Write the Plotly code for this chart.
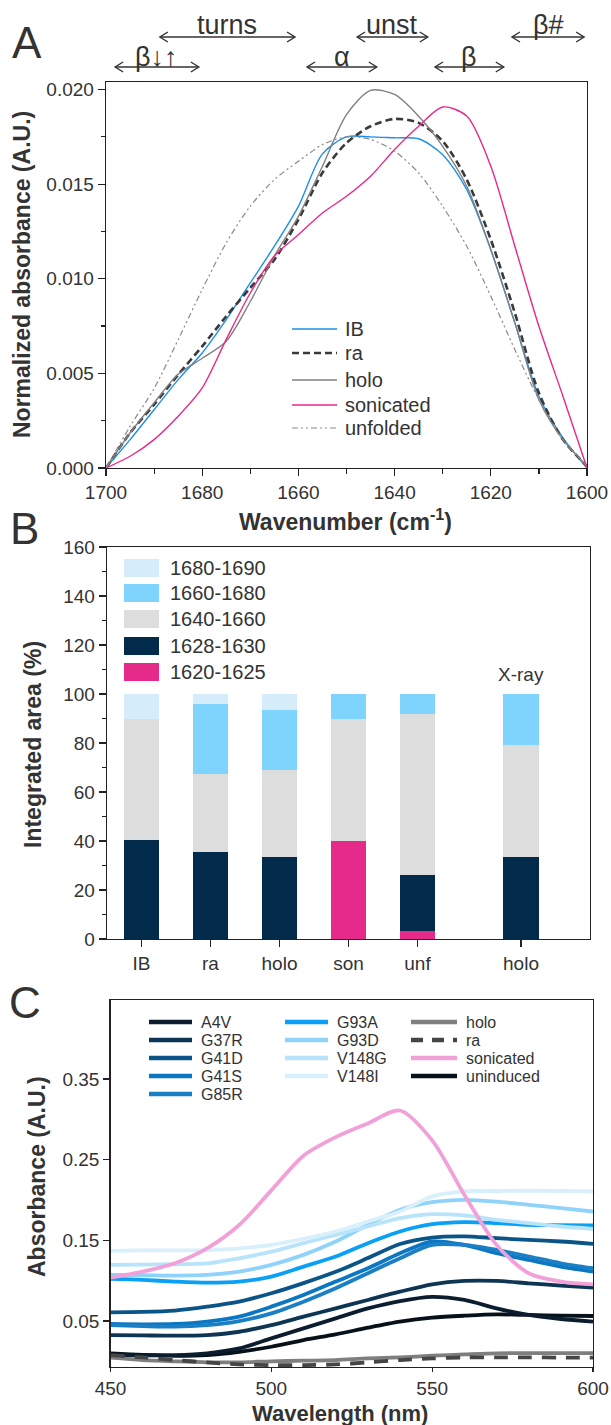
import plotly.graph_objects as go

W, H = 611, 1425
FONT = "Liberation Sans, Arial, sans-serif"
TXT = "#333333"

# ---------------- Panel A data ----------------
wavenumber = [1700, 1695, 1690, 1685, 1680, 1675, 1670, 1665, 1660, 1655, 1650,
              1645, 1640, 1635, 1630, 1625, 1620, 1615, 1610, 1605, 1600]
ib = [0, 0.0015, 0.00308, 0.00467, 0.00608, 0.00784, 0.00978, 0.01172, 0.01383, 0.0166, 0.0175,
      0.0175, 0.01745, 0.0174, 0.01656, 0.01471, 0.01154, 0.00767, 0.00379, 0.00159, 0]
ra = [0, 0.00185, 0.00335, 0.00493, 0.00643, 0.00802, 0.00952, 0.01101, 0.01313, 0.0156, 0.01718,
      0.01806, 0.01845, 0.01824, 0.01727, 0.01524, 0.01207, 0.00819, 0.00396, 0.0015, 0.0001]
holo = [0, 0.00185, 0.00345, 0.00495, 0.0058, 0.0067, 0.0088, 0.0112, 0.0133, 0.01595, 0.01868,
        0.01996, 0.01974, 0.01859, 0.017, 0.01489, 0.01154, 0.00767, 0.00361, 0.0015, 0.0001]
sonicated = [0, 0.00062, 0.0015, 0.00273, 0.00423, 0.0068, 0.00925, 0.0112, 0.01233, 0.01348, 0.01436,
             0.01542, 0.01683, 0.01806, 0.01908, 0.0186, 0.01595, 0.01172, 0.00749, 0.00379, 0]
unfolded = [0, 0.0022, 0.0042, 0.00678, 0.00943, 0.0119, 0.01384, 0.01524, 0.01621, 0.01709, 0.0175,
            0.01736, 0.01674, 0.01559, 0.01383, 0.01172, 0.00908, 0.00626, 0.00361, 0.00150, 0.0001]

region_labels = ["β↓↑", "turns", "α", "unst", "β", "β#"]
region_from = [1698.1, 1688.8, 1658.2, 1647.8, 1631.6, 1615.6]
region_to = [1680.7, 1660.7, 1643.7, 1633.1, 1617.3, 1600.6]
region_row = [2, 1, 2, 1, 2, 1]

# ---------------- Panel B data ----------------
bar_categories = ["IB", "ra", "holo", "son", "unf", "holo"]
bar_slots = [0, 1, 2, 3, 4, 5.5]
band_1620_1625 = [0, 0, 0, 40, 3.3, 0]
band_1628_1630 = [40.3, 35.6, 33.3, 0, 22.8, 33.6]
band_1640_1660 = [49.4, 31.6, 35.7, 50, 65.9, 45.4]
band_1660_1680 = [0, 28.8, 24.5, 10, 8, 21]
band_1680_1690 = [10.3, 4, 6.5, 0, 0, 0]

# ---------------- Panel C data ----------------
wavelength = [450, 460, 470, 480, 490, 500, 510, 520, 530, 540, 550, 560, 570, 580, 590, 600]
A4V = [0.0078, 0.0075, 0.0078, 0.010, 0.016, 0.0285, 0.0409, 0.0533, 0.0657, 0.0748, 0.080,
       0.0761, 0.0657, 0.0575, 0.0525, 0.0492]
G37R = [0.0326, 0.0322, 0.0318, 0.0326, 0.0367, 0.045, 0.0554, 0.0657, 0.0761, 0.0864, 0.0955,
        0.0997, 0.0997, 0.0968, 0.094, 0.0914]
G41D = [0.0608, 0.0613, 0.063, 0.0678, 0.074, 0.0844, 0.097, 0.1110, 0.128, 0.1455, 0.1535,
        0.155, 0.1527, 0.1506, 0.1486, 0.1457]
G41S = [0.0463, 0.0459, 0.0463, 0.0492, 0.0554, 0.0678, 0.0823, 0.0989, 0.1154, 0.134, 0.1486,
        0.1444, 0.134, 0.1258, 0.1175, 0.1113]
G85R = [0.045, 0.0438, 0.043, 0.045, 0.050, 0.0595, 0.074, 0.0906, 0.1092, 0.1278, 0.1444,
        0.1444, 0.1382, 0.130, 0.1216, 0.1154]
G93A = [0.1022, 0.101, 0.0989, 0.0976, 0.0989, 0.105, 0.1175, 0.1299, 0.1465, 0.161, 0.170,
        0.1726, 0.1713, 0.1692, 0.1688, 0.1684]
G93D = [0.1071, 0.107, 0.1063, 0.1071, 0.1113, 0.1196, 0.132, 0.1485, 0.1693, 0.188, 0.1974,
        0.2003, 0.198, 0.194, 0.19, 0.1858]
V148G = [0.1196, 0.1200, 0.1204, 0.1216, 0.1278, 0.1361, 0.1465, 0.1568, 0.1672, 0.1775, 0.1825,
         0.1809, 0.1755, 0.1713, 0.1672, 0.1643]
V148I = [0.137, 0.1375, 0.1375, 0.138, 0.140, 0.1444, 0.152, 0.161, 0.1734, 0.1858, 0.2045,
         0.2107, 0.2112, 0.2115, 0.2112, 0.2107]
holo_c = [0.0045, 0.0016, 0.0, -0.0012, -0.0012, 0.0, 0.0008, 0.0016, 0.0036, 0.0049, 0.007,
          0.0086, 0.0100, 0.0102, 0.0102, 0.0102]
ra_c = [0.0078, 0.0049, 0.0016, -0.0013, -0.0038, -0.0047, -0.0047, -0.0038, -0.0013, 0.0016, 0.0036,
        0.0049, 0.0049, 0.0049, 0.0047, 0.0045]
sonicated_c = [0.1038, 0.1113, 0.1216, 0.140, 0.169, 0.212, 0.255, 0.278, 0.295, 0.311, 0.274,
               0.2065, 0.1444, 0.1092, 0.0989, 0.0955]
uninduced = [0.0098, 0.0080, 0.0069, 0.0078, 0.0119, 0.0181, 0.0264, 0.0334, 0.0417, 0.0492, 0.0541,
             0.0566, 0.0583, 0.0575, 0.0566, 0.0562]


def px(x):
    return x / W


def py(y):
    return 1 - y / H


fig = go.Figure()

# ---- Panel A traces ----
a_series = [
    ("IB", ib, dict(color="#1e8fe6", width=1.4)),
    ("ra", ra, dict(color="#3a3a3a", width=2.6, dash="7px,4px")),
    ("holo", holo, dict(color="#808080", width=1.4)),
    ("sonicated", sonicated, dict(color="#e8288a", width=1.4)),
    ("unfolded", unfolded, dict(color="#8a8a8a", width=1.2, dash="6px,3px,2px,3px,2px,3px")),
]
for name, vals, ln in a_series:
    fig.add_trace(go.Scatter(x=wavenumber, y=vals, name=name, mode="lines",
                             line=dict(shape="spline", smoothing=0.8, **ln),
                             xaxis="x", yaxis="y", showlegend=False))

# ---- Panel B traces ----
b_series = [
    ("1620-1625", band_1620_1625, "#e62a8a"),
    ("1628-1630", band_1628_1630, "#022a4a"),
    ("1640-1660", band_1640_1660, "#dddddd"),
    ("1660-1680", band_1660_1680, "#7ed4fd"),
    ("1680-1690", band_1680_1690, "#d5edfb"),
]
for name, vals, col in b_series:
    fig.add_trace(go.Bar(x=bar_slots, y=vals, name=name, marker=dict(color=col, line=dict(width=0)),
                         width=0.52, xaxis="x2", yaxis="y2", showlegend=False))

# ---- Panel C traces ----
c_series = [
    ("uninduced", uninduced, "#07111a", None),
    ("A4V", A4V, "#0b1d2e", None),
    ("G37R", G37R, "#0e3553", None),
    ("G41D", G41D, "#0b5487", None),
    ("G41S", G41S, "#0b77c2", None),
    ("G85R", G85R, "#1a7fc4", None),
    ("G93A", G93A, "#0aa0f5", None),
    ("G93D", G93D, "#8fd2fa", None),
    ("V148G", V148G, "#b8e4fb", None),
    ("V148I", V148I, "#d8effc", None),
    ("sonicated", sonicated_c, "#f2a0d8", None),
    ("holo", holo_c, "#7f7f7f", None),
    ("ra", ra_c, "#454545", "14px,10px"),
]
for name, vals, col, dash in c_series:
    ln = dict(color=col, width=3.8, shape="spline", smoothing=0.8)
    if dash:
        ln["dash"] = dash
    fig.add_trace(go.Scatter(x=wavelength, y=vals, name=name, mode="lines", line=ln,
                             xaxis="x3", yaxis="y3", showlegend=False))

axis_common = dict(showline=True, linecolor="#222222", linewidth=1.3, mirror=True, ticks="outside",
                   tickcolor="#222222", tickwidth=1.2, showgrid=False, zeroline=False,
                   automargin=False, tickfont=dict(family=FONT, size=19, color=TXT))

fig.update_layout(
    width=W, height=H, autosize=False,
    margin=dict(l=0, r=0, t=0, b=0, pad=0, autoexpand=False),
    paper_bgcolor="white", plot_bgcolor="white",
    barmode="stack", showlegend=False, hovermode=False,
    font=dict(family=FONT, color=TXT),
    xaxis=dict(domain=[px(106), px(587)], range=[1700, 1600], anchor="y", ticklen=7,
               tickvals=[1700, 1680, 1660, 1640, 1620, 1600],
               minor=dict(dtick=10, ticks="outside", ticklen=5, tickcolor="#222222"), **axis_common),
    yaxis=dict(domain=[py(468), py(82)], range=[0, 0.0204], anchor="x", ticklen=7,
               tickvals=[0, 0.005, 0.01, 0.015, 0.02], tickformat=".3f",
               minor=dict(dtick=0.0025, ticks="outside", ticklen=4, tickcolor="#222222"), **axis_common),
    xaxis2=dict(domain=[px(107), px(590)], range=[-0.5, 6.5], anchor="y2", ticklen=7,
                tickvals=bar_slots, ticktext=bar_categories, **axis_common),
    yaxis2=dict(domain=[py(939), py(547)], range=[0, 160], anchor="x2", dtick=20, ticklen=7,
                minor=dict(dtick=10, ticks="outside", ticklen=4, tickcolor="#222222"), **axis_common),
    xaxis3=dict(domain=[px(110.5), px(593)], range=[450, 600], anchor="y3", dtick=50, ticklen=4,
                **axis_common),
    yaxis3=dict(domain=[py(1367), py(1000)], range=[-0.007, 0.448], anchor="x3", ticklen=6,
                tickvals=[0.05, 0.15, 0.25, 0.35], tickformat=".2f", **axis_common),
)

annotations = []
shapes = []


def txt(x, y, text, size=19, bold=False, angle=0, xanchor="center", yanchor="middle"):
    annotations.append(dict(x=x, y=y, xref="paper", yref="paper", text=("<b>%s</b>" % text) if bold else text,
                            showarrow=False, textangle=angle, xanchor=xanchor, yanchor=yanchor,
                            font=dict(family=FONT, size=size, color=TXT)))


# Panel letters
txt(px(27), py(43), "A", size=44)
txt(px(24), py(528), "B", size=44)
txt(px(25), py(1002), "C", size=44)

# Axis titles
txt(px(22), py(275), "Normalized absorbance (A.U.)", size=23, bold=True, angle=-90)
txt(px(345), py(520), "Wavenumber (cm<sup>-1</sup>)", size=23, bold=True)
txt(px(33), py(745), "Integrated area (%)", size=23, bold=True, angle=-90)
txt(px(37), py(1177), "Absorbance (A.U.)", size=23, bold=True, angle=-90)
txt(px(340), py(1413), "Wavelength (nm)", size=22, bold=True)

# Region arrows above panel A (double-headed, open chevrons)
PX_PER_WN = (587 - 106) / 100.0
row_arrow_y = {1: 37, 2: 67}
row_text_y = {1: 25, 2: 57}
head_len, head_half = 8, 5
for lab, a0, a1, row in zip(region_labels, region_from, region_to, region_row):
    yy = row_arrow_y[row]
    ARW = dict(color="#333333", width=1.4)
    shapes.append(dict(type="line", xref="x", yref="paper", x0=a0, x1=a1, y0=py(yy), y1=py(yy), line=ARW))
    dx = head_len / PX_PER_WN
    for tip, back in ((a0, a0 - dx), (a1, a1 + dx)):
        path = "M %f,%f L %f,%f L %f,%f" % (back, py(yy - head_half), tip, py(yy), back, py(yy + head_half))
        shapes.append(dict(type="path", xref="x", yref="paper", path=path, line=ARW))
    annotations.append(dict(x=(a0 + a1) / 2, y=py(row_text_y[row]), xref="x", yref="paper",
                            text=lab, showarrow=False, xanchor="center", yanchor="middle",
                            font=dict(family=FONT, size=27, color=TXT)))

# Panel A legend
a_rows = [329, 353, 380, 405, 428]
for (name, vals, ln), yy in zip(a_series, a_rows):
    shp = dict(type="line", xref="paper", yref="paper", x0=px(292), x1=px(337), y0=py(yy), y1=py(yy),
               line=dict(color=ln["color"], width=ln["width"]))
    if "dash" in ln:
        shp["line"]["dash"] = ln["dash"]
    shapes.append(shp)
    txt(px(343), py(yy), name, size=20, xanchor="left")

# Panel B legend (top to bottom)
b_rows = [568, 593, 619, 646, 672]
for (name, vals, col), yy in zip(reversed(b_series), b_rows):
    shapes.append(dict(type="rect", xref="paper", yref="paper", x0=px(124), x1=px(159),
                       y0=py(yy + 9), y1=py(yy - 9), fillcolor=col, line=dict(width=0)))
    txt(px(168), py(yy), name, size=20, xanchor="left")

# X-ray label
annotations.append(dict(x=bar_slots[5], y=108, xref="x2", yref="y2", text="X-ray", showarrow=False,
                        xanchor="center", yanchor="middle", font=dict(family=FONT, size=19, color=TXT)))

# Panel C legend
c_lookup = {n: (c, d) for n, v, c, d in c_series}
c_cols = [
    (["A4V", "G37R", "G41D", "G41S", "G85R"], 149, 192, 199),
    (["G93A", "G93D", "V148G", "V148I"], 285, 328, 335),
    (["holo", "ra", "sonicated", "uninduced"], 411, 457, 464),
]
c_rows = [1022, 1040, 1058, 1076, 1094]
for names, lx0, lx1, tx in c_cols:
    for name, yy in zip(names, c_rows):
        col, dash = c_lookup[name]
        line = dict(color=col, width=4.5)
        if dash:
            line["dash"] = "12px,9px"
        shapes.append(dict(type="line", xref="paper", yref="paper", x0=px(lx0), x1=px(lx1),
                           y0=py(yy), y1=py(yy), line=line))
        txt(px(tx), py(yy), name, size=16, xanchor="left")

fig.update_layout(annotations=annotations, shapes=shapes)
fig.write_html("out.html", config={"displayModeBar": False, "staticPlot": True},
               post_script="document.body.style.margin='0px';document.body.style.overflow='hidden';")
